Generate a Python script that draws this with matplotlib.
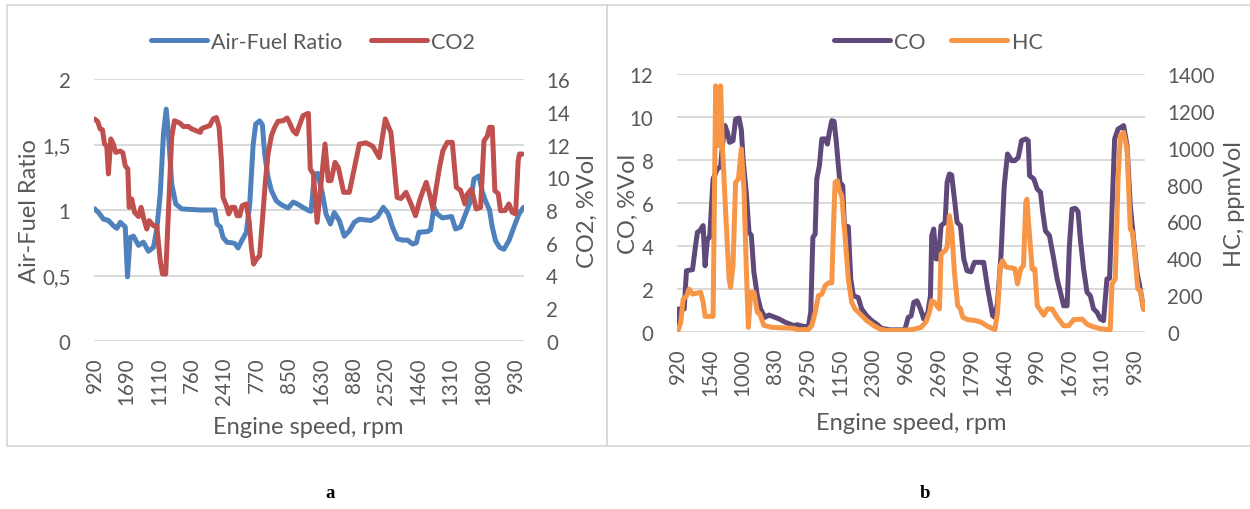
import matplotlib
matplotlib.use("Agg")
import matplotlib.pyplot as plt
from matplotlib.patches import Rectangle
from matplotlib.ticker import FuncFormatter

plt.rcParams['font.family'] = ['Lato', 'DejaVu Sans']

# ---------------- data: panel a ----------------
n_points_a = 266
xlabels_a = ["920", "1690", "1110", "760", "2410", "770", "850", "1630",
             "880", "2520", "1460", "1310", "1800", "930"]
label_step = 20

# Air-Fuel Ratio: (category index, value) breakpoints
afr_idx = [0, 2.5, 5.6, 8.6, 11.7, 13.8, 15.9, 19.0, 20.4, 22.0, 24.1, 27.2, 30.2, 33.3,
           36.4, 38.5, 40.6, 42.6, 44.3, 45.7, 47.7, 50.2, 53.9, 65.4, 74.3, 75.7, 77.8,
           79.4, 81.9, 84.6, 86.6, 88.7, 90.7, 93.8, 95.9, 98.0, 99.6, 102.0, 103.7, 105.1,
           107.2, 109.3, 112.3, 115.4, 119.6, 122.7, 124.7, 128.8, 132.1, 133.8, 135.8,
           137.8, 140.9, 143.0, 145.7, 148.1, 151.2, 154.3, 157.4, 160.5, 163.6, 166.7,
           170.8, 174.9, 178.4, 181.5, 184.1, 187.2, 190.3, 193.4, 196.5, 198.8, 200.4,
           205.6, 207.6, 209.7, 211.7, 214.8, 217.9, 220.6, 223.0, 226.1, 229.2, 232.3,
           234.4, 237.5, 239.5, 241.5, 244.0, 245.7, 247.7, 250.2, 252.9, 256.0, 259.1,
           262.2, 265.0]
afr_val = [1.01, 0.98, 0.93, 0.92, 0.88, 0.86, 0.906, 0.87, 0.49, 0.79, 0.80, 0.73, 0.755,
           0.685, 0.715, 0.855, 1.12, 1.58, 1.77, 1.58, 1.2, 1.046, 1.008, 1.0, 1.0, 0.893,
           0.87, 0.79, 0.753, 0.75, 0.745, 0.71, 0.76, 0.83, 1.046, 1.50, 1.656, 1.68, 1.65,
           1.43, 1.25, 1.147, 1.07, 1.04, 1.015, 1.06, 1.05, 1.02, 0.997, 0.99, 1.27, 1.28,
           1.12, 0.97, 0.893, 0.98, 0.92, 0.80, 0.84, 0.906, 0.93, 0.925, 0.92, 0.95, 1.02,
           0.97, 0.868, 0.78, 0.77, 0.77, 0.74, 0.75, 0.83, 0.835, 0.85, 1.02, 0.97, 0.94,
           0.945, 0.95, 0.855, 0.87, 0.97, 1.07, 1.237, 1.26, 1.14, 1.07, 1.0, 0.87, 0.766,
           0.715, 0.70, 0.766, 0.87, 0.97, 1.02]

# CO2 %Vol breakpoints
co2_idx = [0, 2.0, 3.5, 4.9, 6.2, 7.6, 8.6, 10.1, 11.7, 13.1, 15.9, 17.5, 19.0, 20.6, 21.4,
           23.0, 24.7, 27.2, 28.8, 30.2, 32.3, 33.8, 36.4, 38.5, 40.6, 42.0, 44.0, 45.7,
           47.7, 49.4, 52.9, 54.9, 58.0, 60.1, 65.4, 66.0, 68.1, 71.2, 73.3, 75.3, 77.0,
           78.4, 79.4, 81.5, 82.9, 84.6, 86.6, 88.1, 89.7, 91.2, 93.8, 95.5, 96.9, 98.3,
           100.0, 102.0, 103.7, 105.6, 107.2, 109.3, 111.3, 113.4, 116.5, 119.0, 120.6,
           122.7, 124.7, 126.7, 128.8, 130.9, 132.1, 133.3, 135.2, 137.5, 142.4, 144.4,
           146.1, 148.6, 150.6, 153.9, 157.4, 163.6, 167.7, 171.8, 175.9, 179.6, 183.1,
           186.9, 189.3, 192.4, 195.5, 198.3, 200.8, 202.9, 204.9, 207.0, 209.1, 211.1,
           213.1, 215.2, 217.9, 221.0, 223.5, 226.1, 228.8, 230.2, 232.9, 235.8, 238.5,
           240.6, 242.6, 244.0, 245.7, 247.3, 249.4, 250.8, 253.5, 256.0, 258.0, 260.1,
           261.7, 262.5, 264.2]
co2_val = [13.56, 13.4, 12.95, 12.9, 12.03, 11.9, 10.2, 12.34, 12.0, 11.52, 11.6, 11.5,
           10.7, 10.5, 8.16, 8.67, 7.86, 7.6, 8.16, 7.55, 6.84, 7.35, 7.04, 7.0, 4.9, 4.09,
           4.09, 7.96, 12.44, 13.45, 13.3, 13.1, 13.1, 12.95, 12.74, 12.95, 13.05, 13.15,
           13.56, 13.65, 13.05, 11.0, 8.77, 8.26, 7.76, 8.16, 8.16, 7.65, 7.65, 8.26, 8.37,
           7.35, 5.72, 4.70, 5.0, 5.2, 7.35, 9.79, 11.42, 12.54, 13.05, 13.42, 13.45, 13.62,
           13.3, 12.84, 12.64, 13.2, 13.76, 13.86, 13.9, 10.5, 10.2, 7.25, 12.03, 9.79, 9.8,
           10.91, 10.6, 9.08, 9.08, 12.03, 12.1, 11.9, 11.2, 13.56, 12.74, 8.77, 8.7, 9.08,
           8.37, 7.65, 8.57, 9.18, 9.69, 8.96, 8.06, 9.39, 10.6, 11.62, 12.13, 12.13, 9.39,
           9.2, 8.37, 8.96, 9.28, 8.06, 8.16, 12.23, 12.5, 13.05, 13.05, 9.18, 9.0, 7.96,
           7.96, 8.37, 7.86, 7.76, 11.0, 11.42, 11.42]

# ---------------- data: panel b ----------------
n_points_b = 287
xlabels_b = ["920", "1540", "1000", "830", "2950", "1150", "2300", "960", "2690",
             "1790", "1640", "990", "1670", "3110", "930"]

co_idx = [0, 0.6, 4.1, 5.5, 9.2, 10.8, 12.2, 13.6, 15.7, 16.9, 18.3, 19.7, 21.8, 24.4,
          26.4, 27.5, 29.1, 30.5, 31.9, 34.0, 35.6, 37.7, 39.1, 40.3, 42.1, 43.8, 45.2,
          46.8, 48.9, 50.9, 53.6, 56.0, 62.1, 66.1, 71.5, 73.1, 77.1, 80.2, 81.6, 82.9,
          84.3, 85.3, 86.9, 88.4, 90.4, 91.8, 93.0, 94.5, 95.9, 97.1, 98.5, 99.5, 101.2,
          102.2, 104.6, 106.1, 107.7, 110.7, 112.8, 115.8, 118.9, 122.0, 125.0, 130.1,
          139.2, 141.3, 143.1, 144.7, 146.7, 148.8, 150.8, 153.3, 154.9, 155.7, 156.9,
          158.4, 159.8, 161.4, 163.9, 165.1, 166.5, 167.9, 169.6, 171.2, 173.3, 175.3,
          177.3, 179.7, 181.8, 187.5, 190.0, 193.0, 194.4, 196.0, 198.1, 200.1, 202.1,
          204.6, 206.6, 208.7, 210.7, 213.3, 214.8, 215.6, 218.2, 220.3, 222.3, 223.7,
          225.3, 227.8, 230.4, 232.5, 234.5, 236.5, 238.6, 240.0, 241.6, 243.7, 245.3,
          246.7, 248.7, 250.8, 252.8, 254.8, 256.9, 258.9, 260.9, 263.0, 264.6, 266.4,
          267.7, 269.8, 271.8, 273.2, 275.3, 277.3, 279.3, 281.4, 283.4, 285.4, 286.0]
co_val = [0.2, 1.07, 1.07, 2.85, 2.9, 3.86, 4.64, 4.7, 4.95, 3.08, 4.33, 4.4, 7.12, 7.58,
          7.7, 8.67, 9.6, 9.3, 8.82, 8.9, 9.9, 9.95, 9.4, 7.9, 6.5, 4.64, 4.5, 2.78, 1.69,
          1.07, 0.68, 0.79, 0.61, 0.45, 0.29, 0.34, 0.26, 0.26, 0.92, 4.4, 4.55, 7.12, 7.74,
          8.98, 8.98, 8.74, 9.29, 9.83, 9.8, 8.98, 7.74, 6.96, 6.8, 4.94, 4.9, 2.47, 1.69,
          1.6, 1.07, 0.76, 0.53, 0.37, 0.17, 0.1, 0.1, 0.68, 0.75, 1.38, 1.45, 1.07, 0.61,
          0.9, 1.69, 4.48, 4.79, 3.4, 3.4, 4.94, 5.1, 6.96, 7.35, 7.3, 6.19, 5.1, 4.94, 3.4,
          2.85, 2.8, 3.24, 3.24, 2.0, 0.76, 0.68, 1.38, 3.55, 6.8, 8.28, 7.97, 7.97, 8.12,
          8.9, 8.98, 8.9, 7.27, 7.12, 6.65, 6.5, 5.57, 4.71, 4.48, 3.4, 2.47, 1.85, 1.22,
          1.22, 4.01, 5.72, 5.75, 5.6, 4.33, 2.93, 1.85, 1.69, 1.07, 0.92, 0.61, 0.53, 2.47,
          2.5, 6.34, 8.98, 9.44, 9.53, 9.6, 8.67, 5.88, 4.33, 2.78, 2.0, 1.07, 1.05]

hc_idx = [0, 2.0, 3.5, 5.5, 7.1, 9.2, 14.2, 15.7, 16.9, 21.8, 23.4, 25.5, 26.4, 27.5,
          29.5, 31.6, 32.5, 34.0, 35.6, 37.3, 39.1, 40.7, 42.1, 43.4, 44.8, 46.8, 48.9,
          50.3, 52.9, 58.0, 71.5, 73.1, 80.2, 82.3, 84.3, 86.3, 88.4, 90.4, 92.4, 94.5,
          95.5, 96.5, 97.9, 99.1, 100.6, 102.6, 104.6, 106.7, 108.7, 111.8, 115.8, 119.9,
          124.0, 128.1, 136.2, 143.5, 149.2, 152.2, 154.3, 155.7, 157.4, 160.4, 161.4,
          163.9, 165.1, 166.5, 167.9, 169.6, 171.6, 173.3, 174.7, 177.7, 181.8, 185.8,
          189.9, 194.4, 196.0, 197.7, 199.1, 201.1, 206.6, 208.2, 210.3, 211.9, 213.3,
          214.0, 214.8, 217.2, 218.8, 220.3, 222.3, 224.3, 226.4, 229.4, 232.5, 236.5,
          239.6, 242.6, 247.8, 250.8, 253.8, 257.9, 263.0, 265.0, 266.1, 268.1, 269.8,
          271.2, 273.2, 275.3, 277.3, 278.7, 280.3, 281.9, 283.4, 285.4, 286.0]
hc_val = [0, 52, 179, 195, 233, 206, 215, 161, 85, 85, 1336, 1011, 1336, 1011, 650, 288,
          242, 360, 812, 830, 993, 776, 360, 25, 215, 215, 107, 100, 36, 25, 20, 13, 13, 36,
          107, 197, 205, 251, 266, 266, 559, 812, 821, 767, 740, 523, 288, 161, 125, 98, 63,
          36, 16, 8, 8, 13, 25, 56, 107, 170, 160, 125, 423, 441, 460, 631, 560, 324, 143,
          125, 80, 67, 63, 54, 31, 13, 107, 360, 387, 353, 344, 261, 344, 360, 704, 720,
          613, 342, 342, 143, 118, 91, 125, 125, 80, 34, 34, 67, 70, 42, 31, 20, 13, 13,
          261, 288, 830, 1065, 1083, 993, 559, 540, 396, 233, 225, 125, 120]

# ---------------- style ----------------
W, H = 1250, 510
C_BLUE = "#4f81bd"
C_RED = "#c0504d"
C_PURPLE = "#5f497a"
C_ORANGE = "#f79646"
C_TEXT = "#595959"
C_GRID = "#d9d9d9"
LW = 3.6
TICK_FS = 14.8
LABEL_FS = 17
LEG_FS = 15.5

fig = plt.figure(figsize=(W / 100, H / 100), dpi=100)


def fig_box(x0, y0, x1, y1):
    """pixel box (top-left origin) -> figure fraction [l, b, w, h]"""
    return [x0 / W, 1 - y1 / H, (x1 - x0) / W, (y1 - y0) / H]


def comma(v, pos):
    s = ("%g" % v)
    return s.replace(".", ",")


def style_axes(ax, ax2, n_points, xlabels):
    for a in (ax, ax2):
        for s in a.spines.values():
            s.set_visible(False)
        a.tick_params(length=0, colors=C_TEXT, labelsize=TICK_FS)
    ax.set_xlim(-0.3, n_points - 0.7)
    ticks = list(range(0, label_step * len(xlabels), label_step))
    ax.set_xticks(ticks)
    ax.set_xticklabels(xlabels, rotation=90, va="top", ha="center")
    ax.tick_params(axis="x", pad=11)
    ax.tick_params(axis="y", pad=17)
    ax2.tick_params(axis="y", pad=16)
    ax.grid(axis="y", color=C_GRID, lw=1.4)
    ax.grid(axis="x", visible=False)
    ax.set_axisbelow(True)


line_kw = dict(lw=LW, solid_joinstyle="round", solid_capstyle="round")

# ---------------- panel a ----------------
axa = fig.add_axes(fig_box(94, 80, 524, 342))
axa2 = axa.twinx()
la, = axa.plot(afr_idx, afr_val, color=C_BLUE, label="Air-Fuel Ratio", **line_kw)
lb, = axa2.plot(co2_idx, co2_val, color=C_RED, label="CO2", **line_kw)
axa.set_ylim(0, 2)
axa.set_yticks([0, 0.5, 1, 1.5, 2])
axa.yaxis.set_major_formatter(FuncFormatter(comma))
axa2.set_ylim(0, 16)
axa2.set_yticks(range(0, 17, 2))
style_axes(axa, axa2, n_points_a, xlabels_a)
axa.set_ylabel("Air-Fuel Ratio", fontsize=LABEL_FS, color=C_TEXT, va="center")
axa.yaxis.set_label_coords(-0.150, 0.5)
axa2.set_ylabel("CO2, %Vol", fontsize=LABEL_FS, color=C_TEXT, va="center", rotation=90)
axa2.yaxis.set_label_coords(1.147, 0.5)
axa.set_xlabel("Engine speed, rpm", fontsize=LABEL_FS, color=C_TEXT, va="center")
axa.xaxis.set_label_coords(0.498, -0.328)
fig.legend(handles=[la, lb], loc="center", bbox_to_anchor=(313 / W, 1 - 43 / H),
           ncol=2, frameon=False, fontsize=LEG_FS, labelcolor=C_TEXT,
           handlelength=2.6, handletextpad=0.2, columnspacing=1.3)

# ---------------- panel b ----------------
axb = fig.add_axes(fig_box(677, 75, 1145, 333))
axb2 = axb.twinx()
lc, = axb.plot(co_idx, co_val, color=C_PURPLE, label="CO", **line_kw)
ld, = axb2.plot(hc_idx, hc_val, color=C_ORANGE, label="HC", **line_kw)
axb.set_ylim(0, 12)
axb.set_yticks(range(0, 13, 2))
axb2.set_ylim(0, 1400)
axb2.set_yticks(range(0, 1401, 200))
style_axes(axb, axb2, n_points_b, xlabels_b)
axb.set_ylabel("CO, %Vol", fontsize=LABEL_FS, color=C_TEXT, va="center")
axb.yaxis.set_label_coords(-0.105, 0.5)
axb2.set_ylabel("HC, ppmVol", fontsize=LABEL_FS, color=C_TEXT, va="center", rotation=90)
axb2.yaxis.set_label_coords(1.191, 0.5)
axb.set_xlabel("Engine speed, rpm", fontsize=LABEL_FS, color=C_TEXT, va="center")
axb.xaxis.set_label_coords(0.5, -0.349)
fig.legend(handles=[lc, ld], loc="center", bbox_to_anchor=(938 / W, 1 - 43 / H),
           ncol=2, frameon=False, fontsize=LEG_FS, labelcolor=C_TEXT,
           handlelength=2.6, handletextpad=0.2, columnspacing=1.2)

# ---------------- panel frames and captions ----------------
for box in [(7, 6, 607, 447), (607, 6, 1252, 447)]:
    l, b, w, h = fig_box(*box)
    fig.patches.append(Rectangle((l, b), w, h, transform=fig.transFigure, fill=False,
                                 edgecolor=C_GRID, lw=1.3))

fig.text(330 / W, 1 - 494 / H, "a", fontsize=13.5, fontweight="bold",
         family=["Liberation Serif", "DejaVu Serif"], ha="center", va="center")
fig.text(925 / W, 1 - 494 / H, "b", fontsize=13.5, fontweight="bold",
         family=["Liberation Serif", "DejaVu Serif"], ha="center", va="center")

fig.savefig("out.png", dpi=100, facecolor="white")
